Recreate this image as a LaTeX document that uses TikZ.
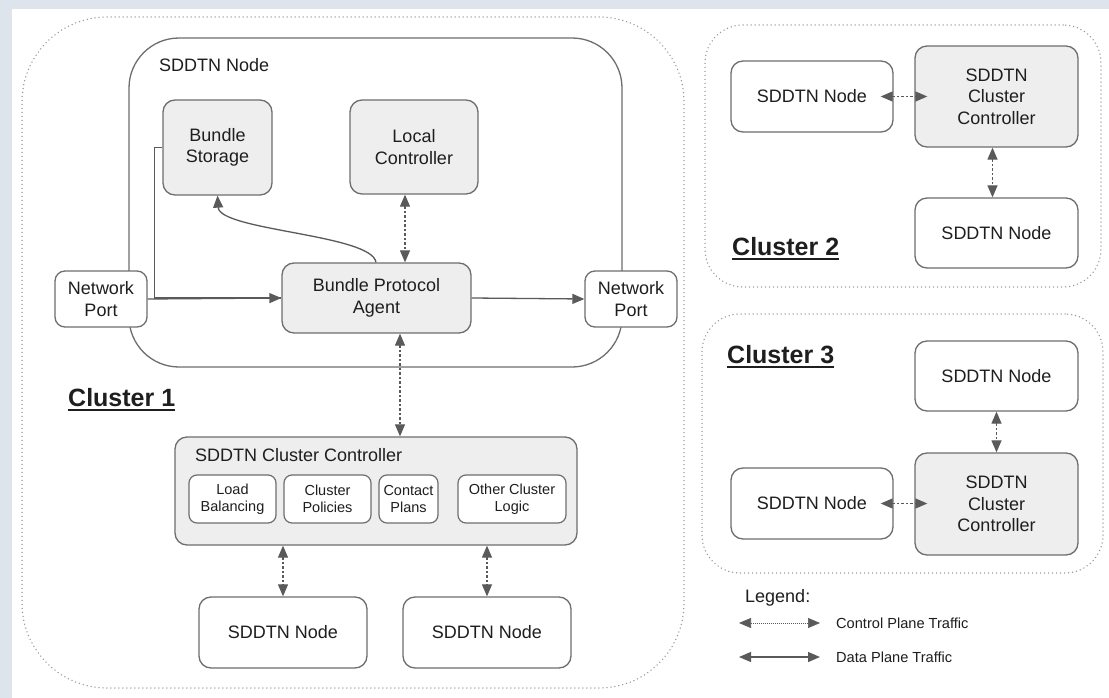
\documentclass[tikz,border=0pt]{standalone}
\usepackage{fontspec}
\setmainfont{Liberation Sans}
\usetikzlibrary{arrows.meta}
\definecolor{framebg}{RGB}{222,228,235}
\definecolor{bordercol}{RGB}{110,110,110}
\definecolor{fillgray}{RGB}{238,238,238}
\definecolor{arrowcol}{RGB}{90,90,90}
\definecolor{dotcol}{RGB}{150,150,150}
\definecolor{txtcol}{RGB}{30,30,30}
\newcommand\fmain{\fontsize{18}{21.5}\selectfont}
\newcommand\fsub{\fontsize{14.5}{17.5}\selectfont}
\newcommand\fleg{\fontsize{14.6}{17}\selectfont}
\newcommand\fclus{\fontsize{25}{30}\selectfont\bfseries}
\tikzset{
  cframe/.style={draw=dotcol, line width=1.5pt, dash pattern=on 0pt off 4pt, line cap=round},
  boxbase/.style={draw=bordercol, line width=1.3pt, rounded corners=12pt, align=center, text=txtcol, font=\fmain, inner sep=0pt},
  graybox/.style={boxbase, fill=fillgray},
  whitebox/.style={boxbase, fill=white},
  subbox/.style={draw=bordercol, line width=1.2pt, rounded corners=8pt, fill=white, align=center, text=txtcol, font=\fsub, inner sep=0pt, minimum height=48},
  data/.style={draw=arrowcol, line width=1.3pt, -{Triangle[length=12pt,width=10pt]}},
  dataline/.style={draw=arrowcol, line width=1.3pt},
  ctrl/.style={draw=arrowcol, line width=1.2pt, dash pattern=on 2.5pt off 2pt, {Triangle[length=12pt,width=10pt]}-{Triangle[length=12pt,width=10pt]}},
  clabel/.style={text=txtcol, font=\fclus, inner sep=0pt, anchor=base west},
  uline/.style={draw=txtcol, line width=1.8pt}
}
\begin{document}
\begin{tikzpicture}[x=1pt,y=-1pt]
\useasboundingbox (0,0) rectangle (1109,698);
\fill[framebg] (0,0) rectangle (1109,698);
\fill[white] (12,9) rectangle (1109,698);

% cluster frames
\node[cframe, rounded corners=85pt, minimum width=662, minimum height=671] (cl1) at (353,352.5) {};
\node[cframe, rounded corners=38pt, minimum width=396, minimum height=262] (cl2) at (903,156) {};
\node[cframe, rounded corners=38pt, minimum width=401, minimum height=259] (cl3) at (902.5,443.5) {};

% ===== Cluster 1 =====
\node[whitebox, rounded corners=50pt, minimum width=493, minimum height=329] (big) at (375.5,202.5) {};
\node[text=txtcol, font=\fmain, inner sep=0pt, anchor=west] (bigl) at (159,65) {SDDTN Node};

\node[graybox, minimum width=109, minimum height=95] (bs) at (217.5,147.5) {Bundle\\Storage};
\node[graybox, minimum width=128, minimum height=94] (lc) at (414,147) {Local\\Controller};
\node[graybox, minimum width=189, minimum height=70] (bpa) at (376.5,298) {Bundle Protocol\\Agent};
\node[whitebox, rounded corners=10pt, minimum width=92, minimum height=56] (np1) at (101,299) {Network\\Port};
\node[whitebox, rounded corners=10pt, minimum width=92, minimum height=56] (np2) at (631,299) {Network\\Port};

\node[clabel] (c1l) at (68,406) {Cluster 1};
\draw[uline] ([yshift=-4pt]c1l.base west) -- ([yshift=-4pt]c1l.base east);

\node[graybox, minimum width=402, minimum height=108] (cc) at (376,491) {};
\node[text=txtcol, font=\fmain, inner sep=0pt, anchor=west] (ccl) at (195,455) {SDDTN Cluster Controller};
\node[subbox, minimum width=87] (lb) at (232.5,499) {Load\\Balancing};
\node[subbox, minimum width=87] (cp) at (327.5,499) {Cluster\\Policies};
\node[subbox, minimum width=59] (ctp) at (408.5,499) {Contact\\Plans};
\node[subbox, minimum width=108] (ocl) at (512,499) {Other Cluster\\Logic};

\node[whitebox, minimum width=168, minimum height=71] (bn1) at (283,632.5) {SDDTN Node};
\node[whitebox, minimum width=168, minimum height=71] (bn2) at (487,632.5) {SDDTN Node};

% data plane arrows in cluster 1
\draw[dataline] (bs.west) -- ++(-8,0) |- (bpa.west);
\draw[data] (np1.east) -- (bpa.west);
\draw[data] (bpa.east) -- (np2.west);
\draw[data] ([xshift=-0.5pt]bpa.north) .. controls +(-4,-28) and +(2,35) .. (bs.south);

% control plane arrows in cluster 1
\draw[ctrl] ([xshift=-9pt]lc.south) -- ([xshift=-9pt]lc.south |- bpa.north);
\draw[ctrl] ([xshift=23.5pt]bpa.south) -- ([xshift=23.5pt]bpa.south |- cc.north);
\draw[ctrl] (cc.south -| bn1.north) -- (bn1.north);
\draw[ctrl] (cc.south -| bn2.north) -- (bn2.north);

% ===== Cluster 2 =====
\node[whitebox, minimum width=162, minimum height=71] (n2a) at (812,96.5) {SDDTN Node};
\node[graybox, minimum width=163, minimum height=101] (cc2) at (996.5,96.5) {SDDTN\\Cluster\\Controller};
\node[whitebox, minimum width=163, minimum height=70] (n2b) at (996.5,233) {SDDTN Node};
\draw[ctrl, shorten <=-13pt, shorten >=-13pt] (n2a.east) -- (cc2.west);
\draw[ctrl] ([xshift=-4pt]cc2.south) -- ([xshift=-4pt]n2b.north);
\node[clabel] (c2l) at (732,255) {Cluster 2};
\draw[uline] ([yshift=-4pt]c2l.base west) -- ([yshift=-4pt]c2l.base east);

% ===== Cluster 3 =====
\node[whitebox, minimum width=163, minimum height=70] (n3a) at (996.5,376) {SDDTN Node};
\node[graybox, minimum width=163, minimum height=102] (cc3) at (996.5,504) {SDDTN\\Cluster\\Controller};
\node[whitebox, minimum width=162, minimum height=71] (n3b) at (812,503.5) {SDDTN Node};
\draw[ctrl, shorten <=-13pt, shorten >=-13pt] (n3b.east) -- (n3b.east -| cc3.west);
\draw[ctrl] (n3a.south) -- (cc3.north);
\node[clabel] (c3l) at (727,363) {Cluster 3};
\draw[uline] ([yshift=-4pt]c3l.base west) -- ([yshift=-4pt]c3l.base east);

% ===== Legend =====
\node[text=txtcol, font=\fmain, inner sep=0pt, anchor=west] (leg) at (745,598) {Legend:};
\coordinate (la1) at (739,623);
\coordinate (la2) at (820,623);
\coordinate (lb1) at (739,657);
\coordinate (lb2) at (820,657);
\draw[draw=arrowcol, line width=0.7pt, dash pattern=on 1pt off 1pt, {Triangle[length=12pt,width=10pt]}-{Triangle[length=12pt,width=10pt]}] (la1) -- (la2);
\draw[draw=arrowcol, line width=1.3pt, {Triangle[length=12pt,width=10pt]}-{Triangle[length=12pt,width=10pt]}] (lb1) -- (lb2);
\node[text=txtcol, font=\fleg, inner sep=0pt, anchor=west] (lt1) at (836,623) {Control Plane Traffic};
\node[text=txtcol, font=\fleg, inner sep=0pt, anchor=west] (lt2) at (836,657) {Data Plane Traffic};
\end{tikzpicture}
\end{document}
